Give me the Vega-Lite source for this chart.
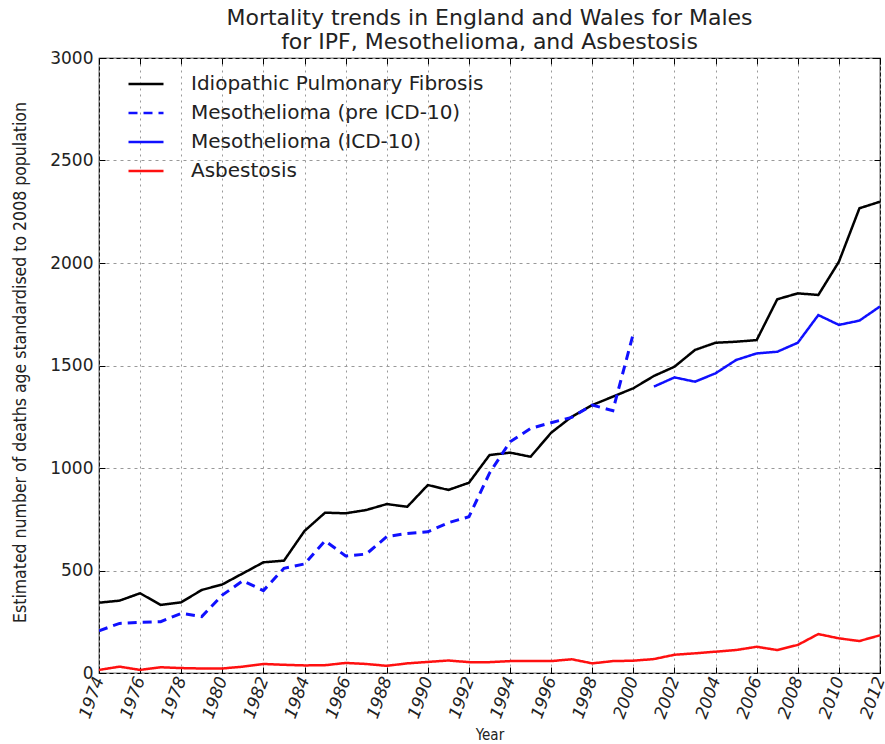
{
  "$schema": "https://vega.github.io/schema/vega-lite/v6.json",
  "width": 781,
  "height": 615,
  "autosize": {"type": "none"},
  "padding": {"left": 99, "top": 58, "right": 5, "bottom": 71},
  "background": "white",
  "title": {
    "text": ["Mortality trends in England and Wales for Males", "for IPF, Mesothelioma, and Asbestosis"],
    "font": "DejaVu Sans",
    "fontSize": 22,
    "fontWeight": "normal",
    "color": "#222222",
    "anchor": "middle",
    "offset": -5,
    "lineHeight": 24
  },
  "config": {
    "view": {"stroke": "black", "strokeWidth": 1.2},
    "font": "DejaVu Sans"
  },
  "resolve": {"axis": {"x": "independent", "y": "independent"}},
  "datasets": {
    "ipf": [
      {"Year":1974,"Value":343},{"Year":1975,"Value":353},{"Year":1976,"Value":389},{"Year":1977,"Value":332},
      {"Year":1978,"Value":345},{"Year":1979,"Value":405},{"Year":1980,"Value":432},{"Year":1981,"Value":486},
      {"Year":1982,"Value":540},{"Year":1983,"Value":548},{"Year":1984,"Value":693},{"Year":1985,"Value":782},
      {"Year":1986,"Value":779},{"Year":1987,"Value":795},{"Year":1988,"Value":824},{"Year":1989,"Value":811},
      {"Year":1990,"Value":917},{"Year":1991,"Value":893},{"Year":1992,"Value":928},{"Year":1993,"Value":1063},
      {"Year":1994,"Value":1075},{"Year":1995,"Value":1055},{"Year":1996,"Value":1172},{"Year":1997,"Value":1250},
      {"Year":1998,"Value":1307},{"Year":1999,"Value":1348},{"Year":2000,"Value":1389},{"Year":2001,"Value":1449},
      {"Year":2002,"Value":1494},{"Year":2003,"Value":1576},{"Year":2004,"Value":1611},{"Year":2005,"Value":1616},
      {"Year":2006,"Value":1624},{"Year":2007,"Value":1823},{"Year":2008,"Value":1852},{"Year":2009,"Value":1844},
      {"Year":2010,"Value":2006},{"Year":2011,"Value":2267},{"Year":2012,"Value":2299}
    ],
    "mesoPre": [
      {"Year":1974,"Value":206},{"Year":1975,"Value":242},{"Year":1976,"Value":247},{"Year":1977,"Value":250},
      {"Year":1978,"Value":291},{"Year":1979,"Value":275},{"Year":1980,"Value":380},{"Year":1981,"Value":450},
      {"Year":1982,"Value":402},{"Year":1983,"Value":511},{"Year":1984,"Value":532},{"Year":1985,"Value":645},
      {"Year":1986,"Value":571},{"Year":1987,"Value":580},{"Year":1988,"Value":665},{"Year":1989,"Value":681},
      {"Year":1990,"Value":689},{"Year":1991,"Value":733},{"Year":1992,"Value":762},{"Year":1993,"Value":975},
      {"Year":1994,"Value":1128},{"Year":1995,"Value":1193},{"Year":1996,"Value":1221},{"Year":1997,"Value":1247},
      {"Year":1998,"Value":1307},{"Year":1999,"Value":1280},{"Year":2000,"Value":1657}
    ],
    "meso10": [
      {"Year":2001,"Value":1397},{"Year":2002,"Value":1442},{"Year":2003,"Value":1421},{"Year":2004,"Value":1462},
      {"Year":2005,"Value":1527},{"Year":2006,"Value":1559},{"Year":2007,"Value":1567},{"Year":2008,"Value":1611},
      {"Year":2009,"Value":1746},{"Year":2010,"Value":1698},{"Year":2011,"Value":1719},{"Year":2012,"Value":1788}
    ],
    "asb": [
      {"Year":1974,"Value":15},{"Year":1975,"Value":31},{"Year":1976,"Value":15},{"Year":1977,"Value":28},
      {"Year":1978,"Value":24},{"Year":1979,"Value":22},{"Year":1980,"Value":22},{"Year":1981,"Value":31},
      {"Year":1982,"Value":44},{"Year":1983,"Value":40},{"Year":1984,"Value":37},{"Year":1985,"Value":38},
      {"Year":1986,"Value":49},{"Year":1987,"Value":44},{"Year":1988,"Value":35},{"Year":1989,"Value":47},
      {"Year":1990,"Value":54},{"Year":1991,"Value":61},{"Year":1992,"Value":53},{"Year":1993,"Value":53},
      {"Year":1994,"Value":58},{"Year":1995,"Value":58},{"Year":1996,"Value":58},{"Year":1997,"Value":67},
      {"Year":1998,"Value":47},{"Year":1999,"Value":58},{"Year":2000,"Value":60},{"Year":2001,"Value":68},
      {"Year":2002,"Value":89},{"Year":2003,"Value":96},{"Year":2004,"Value":104},{"Year":2005,"Value":112},
      {"Year":2006,"Value":128},{"Year":2007,"Value":112},{"Year":2008,"Value":137},{"Year":2009,"Value":190},
      {"Year":2010,"Value":169},{"Year":2011,"Value":156},{"Year":2012,"Value":184}
    ]
  },
  "encoding": {
    "color": {
      "field": "Series", "type": "nominal",
      "scale": {
        "domain": ["Idiopathic Pulmonary Fibrosis", "Mesothelioma (pre ICD-10)", "Mesothelioma (ICD-10)", "Asbestosis"],
        "range": ["black", "#1010ff", "#1010ff", "#ff1010"]
      },
      "legend": {
        "title": null, "orient": "none", "legendX": 28, "legendY": 7,
        "symbolType": "stroke", "symbolSize": 1225, "symbolStrokeWidth": 2.5,
        "labelFontSize": 20, "labelFont": "DejaVu Sans", "labelColor": "#222222", "labelOffset": 26,
        "labelLimit": 0, "rowPadding": -3
      }
    },
    "strokeDash": {
      "field": "Series", "type": "nominal",
      "scale": {
        "domain": ["Idiopathic Pulmonary Fibrosis", "Mesothelioma (pre ICD-10)", "Mesothelioma (ICD-10)", "Asbestosis"],
        "range": [[1, 0], [9, 6], [1, 0], [1, 0]]
      },
      "legend": null
    }
  },
  "layer": [
    {
      "data": {"name": "ipf"},
      "transform": [{"calculate": "'Idiopathic Pulmonary Fibrosis'", "as": "Series"}],
      "mark": {"type": "line", "strokeWidth": 2.5, "clip": true},
      "encoding": {
        "x": {
          "field": "Year", "type": "quantitative",
          "scale": {"domain": [1974, 2012], "nice": false, "zero": false},
          "axis": {
            "title": "Year", "titleFont": "DejaVu Sans Condensed", "titleFontSize": 15, "titleFontWeight": "normal", "titleColor": "#222222", "titlePadding": 7,
            "values": [1974,1976,1978,1980,1982,1984,1986,1988,1990,1992,1994,1996,1998,2000,2002,2004,2006,2008,2010,2012],
            "format": "d", "labelAngle": -70, "labelFontSize": 17, "labelColor": "#222222", "labelFont": "DejaVu Sans",
            "labelFontStyle": "italic", "labelAlign": "right", "labelBaseline": "middle", "labelPadding": 10,
            "labelOverlap": false, "labelFlush": false, "labelBound": false,
            "domain": false, "ticks": true, "tickSize": -6, "tickColor": "black", "tickWidth": 1,
            "grid": true, "gridColor": "#999999", "gridDash": [2, 4], "gridWidth": 1
          }
        },
        "y": {
          "field": "Value", "type": "quantitative",
          "scale": {"domain": [0, 3000], "nice": false},
          "axis": {
            "title": "Estimated number of deaths age standardised to 2008 population",
            "titleFont": "DejaVu Sans Condensed", "titleFontSize": 17.5, "titleFontWeight": "normal", "titleColor": "#222222",
            "titleX": -79, "titleY": 304, "titleAngle": -90, "titleAlign": "center", "titleBaseline": "middle",
            "values": [0,500,1000,1500,2000,2500,3000], "format": "d",
            "labelFontSize": 17, "labelColor": "#222222", "labelFont": "DejaVu Sans", "labelPadding": 12, "labelFlush": false,
            "domain": false, "ticks": true, "tickSize": -6, "tickColor": "black", "tickWidth": 1,
            "grid": true, "gridColor": "#999999", "gridDash": [3, 4], "gridWidth": 1
          }
        }
      }
    },
    {
      "data": {"name": "mesoPre"},
      "transform": [{"calculate": "'Mesothelioma (pre ICD-10)'", "as": "Series"}],
      "mark": {"type": "line", "strokeWidth": 3, "clip": true},
      "encoding": {
        "x": {"field": "Year", "type": "quantitative",
          "axis": {"orient": "top", "title": null, "labels": false, "domain": false, "grid": false,
            "values": [1974,1976,1978,1980,1982,1984,1986,1988,1990,1992,1994,1996,1998,2000,2002,2004,2006,2008,2010,2012],
            "ticks": true, "tickSize": -6, "tickColor": "black", "tickWidth": 1}},
        "y": {"field": "Value", "type": "quantitative",
          "axis": {"orient": "right", "title": null, "labels": false, "domain": false, "grid": false,
            "values": [0,500,1000,1500,2000,2500,3000],
            "ticks": true, "tickSize": -6, "tickColor": "black", "tickWidth": 1}}
      }
    },
    {
      "data": {"name": "meso10"},
      "transform": [{"calculate": "'Mesothelioma (ICD-10)'", "as": "Series"}],
      "mark": {"type": "line", "strokeWidth": 2.5, "clip": true},
      "encoding": {
        "x": {"field": "Year", "type": "quantitative", "axis": null},
        "y": {"field": "Value", "type": "quantitative", "axis": null}
      }
    },
    {
      "data": {"name": "asb"},
      "transform": [{"calculate": "'Asbestosis'", "as": "Series"}],
      "mark": {"type": "line", "strokeWidth": 2.5, "clip": true},
      "encoding": {
        "x": {"field": "Year", "type": "quantitative", "axis": null},
        "y": {"field": "Value", "type": "quantitative", "axis": null}
      }
    }
  ]
}
